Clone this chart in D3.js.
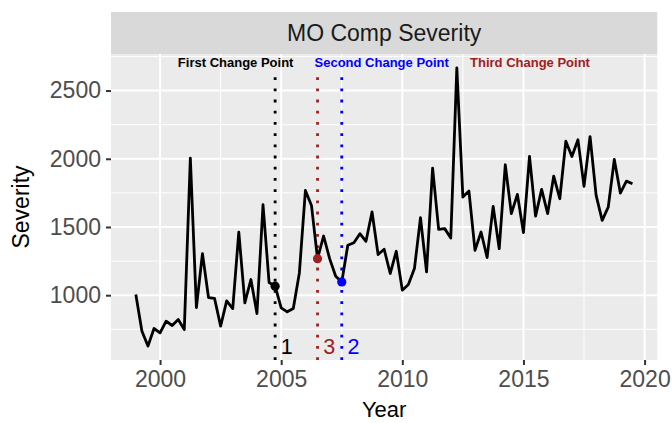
<!DOCTYPE html>
<html>
<head>
<meta charset="utf-8">
<script src="https://cdn.jsdelivr.net/npm/d3@7"></script>
<style>
  html, body { margin: 0; padding: 0; background: #ffffff; }
  svg { display: block; font-family: "Liberation Sans", Arial, Helvetica, sans-serif; }
</style>
</head>
<body>
<svg id="chart" width="672" height="423"></svg>
<script>
// Quarterly MO comp severity
const quarters = [
  1999.00, 1999.25, 1999.50, 1999.75,
  2000.00, 2000.25, 2000.50, 2000.75,
  2001.00, 2001.25, 2001.50, 2001.75,
  2002.00, 2002.25, 2002.50, 2002.75,
  2003.00, 2003.25, 2003.50, 2003.75,
  2004.00, 2004.25, 2004.50, 2004.75,
  2005.00, 2005.25, 2005.50, 2005.75,
  2006.00, 2006.25, 2006.50, 2006.75,
  2007.00, 2007.25, 2007.50, 2007.75,
  2008.00, 2008.25, 2008.50, 2008.75,
  2009.00, 2009.25, 2009.50, 2009.75,
  2010.00, 2010.25, 2010.50, 2010.75,
  2011.00, 2011.25, 2011.50, 2011.75,
  2012.00, 2012.25, 2012.50, 2012.75,
  2013.00, 2013.25, 2013.50, 2013.75,
  2014.00, 2014.25, 2014.50, 2014.75,
  2015.00, 2015.25, 2015.50, 2015.75,
  2016.00, 2016.25, 2016.50, 2016.75,
  2017.00, 2017.25, 2017.50, 2017.75,
  2018.00, 2018.25, 2018.50, 2018.75,
  2019.00, 2019.25, 2019.50
];
const severity = [
  1005, 737, 627, 756,
  724, 810, 778, 822,
  749, 2005, 910, 1305,
  983, 976, 773, 958,
  902, 1463, 944, 1115,
  866, 1663, 1093, 1066,
  907, 878, 902, 1163,
  1768, 1658, 1268, 1434,
  1268, 1139, 1097, 1366,
  1385, 1451, 1395, 1610,
  1298, 1337, 1159, 1322,
  1037, 1078, 1195, 1568,
  1171, 1932, 1483, 1488,
  1419, 2666, 1719, 1763,
  1329, 1463, 1276, 1651,
  1341, 1956, 1598, 1739,
  1459, 2017, 1580, 1776,
  1598, 1873, 1707, 2129,
  2017, 2139, 1798, 2163,
  1732, 1549, 1646, 1995,
  1749, 1836, 1817
];

// Change points
const cpYears  = [2004.75, 2007.50, 2006.50];
const cpLabels = ["1", "2", "3"];
const cpNames  = ["First Change Point", "Second Change Point", "Third Change Point"];
const cpNameX  = [2003.12, 2009.15, 2015.27];   // label centres, in years
const cpColors = ["#000000", "#0000ff", "#9e2020"];

const xTicks = [2000, 2005, 2010, 2015, 2020];
const yTicks = [1000, 1500, 2000, 2500];
const yMinor = [750, 1250, 1750, 2250, 2750];
const xMinor = [2002.5, 2007.5, 2012.5, 2017.5];

const title = "MO Comp Severity";
const xTitle = "Year";
const yTitle = "Severity";

// ---- layout
const panel = { left: 111, right: 657.3, top: 54, bottom: 360 };
const strip = { top: 12, bottom: 54 };

const data = quarters.map((q, i) => ({ x: q, y: severity[i] }));

// ggplot-style 5% expansion
const xExt = d3.extent(quarters), yExt = d3.extent(severity);
const xPad = (xExt[1] - xExt[0]) * 0.05, yPad = (yExt[1] - yExt[0]) * 0.05;
const x = d3.scaleLinear().domain([xExt[0] - xPad, xExt[1] + xPad]).range([panel.left, panel.right]);
const y = d3.scaleLinear().domain([yExt[0] - yPad, yExt[1] + yPad]).range([panel.bottom, panel.top]);

const svg = d3.select("#chart");

// panel background
svg.append("rect")
  .attr("x", panel.left).attr("y", panel.top)
  .attr("width", panel.right - panel.left).attr("height", panel.bottom - panel.top)
  .attr("fill", "#ebebeb");

const grid = svg.append("g");
const inY = v => v >= y.domain()[0] && v <= y.domain()[1];
const inX = v => v >= x.domain()[0] && v <= x.domain()[1];

grid.selectAll(".ymin").data(yMinor.filter(inY)).join("line")
  .attr("x1", panel.left).attr("x2", panel.right)
  .attr("y1", d => y(d)).attr("y2", d => y(d))
  .attr("stroke", "#ffffff").attr("stroke-width", 1);
grid.selectAll(".xmin").data(xMinor.filter(inX)).join("line")
  .attr("y1", panel.top).attr("y2", panel.bottom)
  .attr("x1", d => x(d)).attr("x2", d => x(d))
  .attr("stroke", "#ffffff").attr("stroke-width", 1);
grid.selectAll(".ymaj").data(yTicks).join("line")
  .attr("x1", panel.left).attr("x2", panel.right)
  .attr("y1", d => y(d)).attr("y2", d => y(d))
  .attr("stroke", "#ffffff").attr("stroke-width", 2);
grid.selectAll(".xmaj").data(xTicks).join("line")
  .attr("y1", panel.top).attr("y2", panel.bottom)
  .attr("x1", d => x(d)).attr("x2", d => x(d))
  .attr("stroke", "#ffffff").attr("stroke-width", 2);

// facet strip
svg.append("rect")
  .attr("x", panel.left).attr("y", strip.top)
  .attr("width", panel.right - panel.left).attr("height", strip.bottom - strip.top)
  .attr("fill", "#d9d9d9");
svg.append("text")
  .attr("x", (panel.left + panel.right) / 2).attr("y", (strip.top + strip.bottom) / 2)
  .attr("text-anchor", "middle").attr("dominant-baseline", "central")
  .attr("font-size", 23).attr("fill", "#1a1a1a")
  .text(title);

// change-point dotted lines
const cps = cpYears.map((yr, i) => ({
  x: yr, y: severity[quarters.indexOf(yr)], label: cpLabels[i],
  name: cpNames[i], nameX: cpNameX[i], color: cpColors[i]
}));

svg.append("g").selectAll("line").data(cps).join("line")
  .attr("x1", d => x(d.x)).attr("x2", d => x(d.x))
  .attr("y1", panel.bottom).attr("y2", y(2650))
  .attr("stroke", d => d.color).attr("stroke-width", 2.8)
  .attr("stroke-dasharray", "2.8 8.4");

// series line
svg.append("path").datum(data)
  .attr("fill", "none").attr("stroke", "#000000").attr("stroke-width", 2.8)
  .attr("stroke-linejoin", "round")
  .attr("d", d3.line().x(d => x(d.x)).y(d => y(d.y)));

// change-point markers
svg.append("g").selectAll("circle").data(cps).join("circle")
  .attr("cx", d => x(d.x)).attr("cy", d => y(d.y)).attr("r", 4.6)
  .attr("fill", d => d.color);

// numbers beside the lines
svg.append("g").selectAll("text").data(cps).join("text")
  .attr("x", d => x(d.x + 0.48)).attr("y", y(620))
  .attr("text-anchor", "middle").attr("dominant-baseline", "central")
  .attr("font-size", 21.5).attr("fill", d => d.color)
  .text(d => d.label);

// names along the top
svg.append("g").selectAll("text").data(cps).join("text")
  .attr("x", d => x(d.nameX)).attr("y", y(2708))
  .attr("text-anchor", "middle").attr("dominant-baseline", "central")
  .attr("font-size", 13).attr("font-weight", "bold").attr("fill", d => d.color)
  .text(d => d.name);

// axes
const xAxis = svg.append("g").attr("transform", `translate(0,${panel.bottom})`)
  .call(d3.axisBottom(x).tickValues(xTicks).tickFormat(d3.format("d")).tickSize(5).tickPadding(6));
const yAxis = svg.append("g").attr("transform", `translate(${panel.left},0)`)
  .call(d3.axisLeft(y).tickValues(yTicks).tickFormat(d3.format("d")).tickSize(5).tickPadding(5));
[xAxis, yAxis].forEach(a => {
  a.select(".domain").remove();
  a.selectAll(".tick line").attr("stroke", "#333333").attr("stroke-width", 2);
  a.selectAll(".tick text").attr("fill", "#4d4d4d").attr("font-size", 23)
    .attr("font-family", "'Liberation Sans', Arial, sans-serif");
});

// axis titles
svg.append("text")
  .attr("x", (panel.left + panel.right) / 2).attr("y", 417)
  .attr("text-anchor", "middle").attr("font-size", 22).attr("fill", "#000000")
  .text(xTitle);
svg.append("text")
  .attr("transform", `translate(29,${(panel.top + panel.bottom) / 2}) rotate(-90)`)
  .attr("text-anchor", "middle").attr("font-size", 23).attr("fill", "#000000")
  .text(yTitle);
</script>
</body>
</html>
